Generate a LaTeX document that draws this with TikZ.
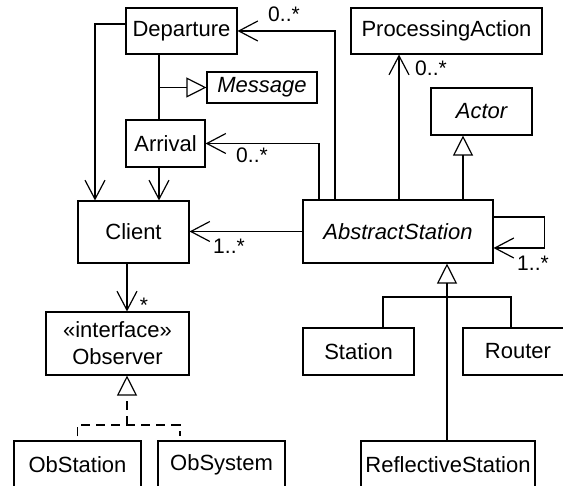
\documentclass[tikz,border=0pt]{standalone}
\usepackage{fontspec}
\setmainfont{Liberation Sans}
\usetikzlibrary{arrows.meta}

\begin{document}
\begin{tikzpicture}[x=1pt, y=-1pt,
  cls/.style={draw, line width=1.1pt, inner sep=0pt, align=center, font=\fontsize{22}{27}\selectfont},
  abstr/.style={font=\fontsize{22}{27}\selectfont\itshape},
  lbl/.style={inner sep=0pt, font=\fontsize{21}{25}\selectfont},
  link/.style={line width=1.5pt},
  assoc/.style={link, -{Straight Barb[length=19pt,width=20pt,line width=1.2pt]}},
  gen/.style={link, -{Triangle[open,length=20pt,width=20pt,line width=1.2pt]}},
  realz/.style={line width=1.2pt, dash pattern=on 9pt off 6pt}]
\useasboundingbox (0,0) rectangle (563,486);
% classes
\node[cls, minimum width=111, minimum height=46] (dep) at (181.5,31) {Departure};
\node[cls, abstr, minimum width=110, minimum height=31] (msg) at (262,87.5) {Message};
\node[cls, minimum width=79, minimum height=47] (arr) at (165.5,143.5) {Arrival};
\node[cls, minimum width=191, minimum height=46] (pa) at (446.5,31) {ProcessingAction};
\node[cls, abstr, minimum width=101, minimum height=47] (act) at (481.5,111.5) {Actor};
\node[cls, minimum width=111, minimum height=62] (cli) at (133.5,232) {Client};
\node[cls, abstr, minimum width=190, minimum height=63] (abs) at (398,231.5) {AbstractStation};
\node[cls, minimum width=143, minimum height=63] (obs) at (117.5,343.5) {«interface»\\Observer};
\node[cls, minimum width=111, minimum height=47] (sta) at (358.5,351.5) {Station};
\node[cls, minimum width=110, minimum height=47] (rou) at (518,351.5) {Router};
\node[cls, minimum width=127, minimum height=47] (ost) at (77.5,464.5) {ObStation};
\node[cls, minimum width=127, minimum height=47] (osy) at (221.5,464.5) {ObSystem};
\node[cls, minimum width=174, minimum height=47] (refl) at (448,464.5) {ReflectiveStation};
% bend points
\coordinate (xl) at (95,0);
\coordinate (xa) at (159,0);
\coordinate (xb) at (319,0);
\coordinate (xd) at (335,0);
\coordinate (xp) at (399,0);
\coordinate (xr) at (463,0);
\coordinate (xo) at (127,0);
\coordinate (xy) at (180,0);
\coordinate (xs) at (383,0);
\coordinate (xu) at (511,0);
\coordinate (jn) at (127,425);
\coordinate (jg) at (447,297);
% connectors
\draw[assoc] ([yshift=7pt]dep.west) -| (xl |- cli.north);
\draw[link] (xa |- dep.south) -- (xa |- arr.north);
\draw[gen] (xa |- msg.west) -- (msg.west);
\draw[assoc] (xa |- arr.south) -- (xa |- cli.north);
\draw[assoc] (xd |- abs.north) |- (dep.east);
\draw[assoc] (xb |- abs.north) |- (arr.east);
\draw[assoc] (xp |- abs.north) -- (xp |- pa.south);
\draw[gen] (xr |- abs.north) -- (xr |- act.south);
\draw[assoc] (abs.west) -- (abs.west -| cli.east);
\draw[assoc] ([yshift=14.5pt]abs.east) -- ++(51,0) |- ([yshift=-16.5pt]abs.east);
\draw[assoc] (xo |- cli.south) -- (xo |- obs.north);
\draw[realz, -{Triangle[open,length=20pt,width=20pt]}] (jn) -- (xo |- obs.south);
\draw[realz, shorten <=4pt, shorten >=4pt] (ost.north) |- (jn) -| (xy |- osy.north);
\draw[gen] (jg) -- (jg |- abs.south);
\draw[link] (xs |- sta.north) |- (jg) -| (xu |- rou.north);
\draw[link] (jg) -- (jg |- refl.north);
% multiplicities
\node[lbl] (m1) at (284,14) {0..*};
\node[lbl] (m2) at (252,155) {0..*};
\node[lbl] (m3) at (431,68) {0..*};
\node[lbl] (m4) at (229,246) {1..*};
\node[lbl] (m5) at (533,263) {1..*};
\node[lbl] (m6) at (144,305) {*};
\end{tikzpicture}
\end{document}
